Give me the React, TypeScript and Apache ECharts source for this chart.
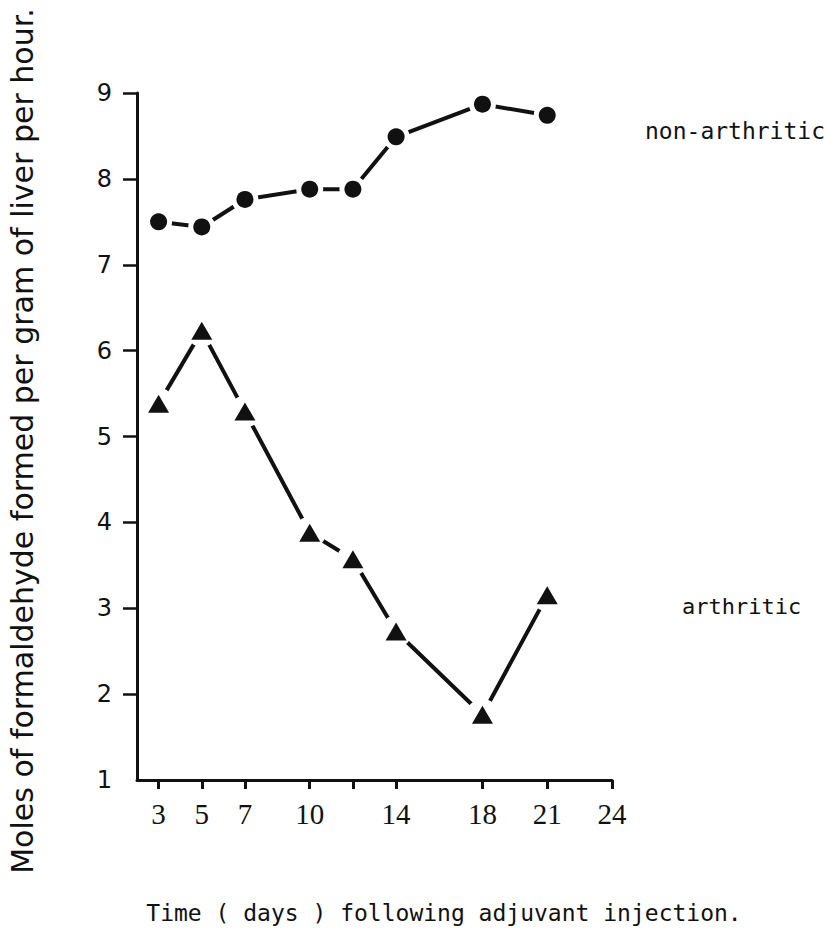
import React, { useEffect, useRef } from "react";
import * as echarts from "echarts";

// Days after adjuvant injection at which livers were assayed
const days = [3, 5, 7, 10, 12, 14, 18, 21];
// Moles of formaldehyde formed per gram of liver per hour
const nonArthritic = [7.5, 7.44, 7.76, 7.88, 7.88, 8.49, 8.87, 8.74];
const arthritic = [5.38, 6.23, 5.29, 3.88, 3.57, 2.73, 1.76, 3.15];

const xTickDays = [3, 5, 7, 10, 12, 14, 18, 21, 24];
const xLabelDays = [3, 5, 7, 10, 14, 18, 21, 24];
const yTickValues = [2, 3, 4, 5, 6, 7, 8, 9];
const yLabelValues = [1, 2, 3, 4, 5, 6, 7, 8, 9];

const seriesNames = ["non-arthritic", "arthritic"];
const yTitle = "Moles of formaldehyde formed per gram of liver per hour.";
const xTitle = "Time ( days ) following adjuvant injection.";

const INK = "#111111";

const pairs = (vals: number[]) => days.map((d, i) => [d, vals[i]]);

export default function App() {
  const ref = useRef<HTMLDivElement>(null);

  useEffect(() => {
    if (!ref.current) return;
    const chart = echarts.init(ref.current, undefined, { renderer: "svg" });

    const option: echarts.EChartsOption = {
      animation: false,
      backgroundColor: "#ffffff",
      grid: { left: 137, top: 93, width: 475, height: 687, containLabel: false },
      xAxis: {
        type: "value",
        min: 2,
        max: 24,
        splitLine: { show: false },
        axisLine: { show: true, lineStyle: { color: INK, width: 3 } },
        axisTick: {
          show: true,
          customValues: xTickDays,
          length: 9,
          lineStyle: { color: INK, width: 3 },
        },
        axisLabel: {
          customValues: xLabelDays,
          margin: 19,
          color: INK,
          fontFamily: "Liberation Serif",
          fontSize: 29,
        },
      } as any,
      yAxis: {
        type: "value",
        min: 1,
        max: 9,
        interval: 1,
        splitLine: { show: false },
        axisLine: { show: true, lineStyle: { color: INK, width: 3 } },
        axisTick: {
          show: true,
          customValues: yTickValues,
          length: 14,
          lineStyle: { color: INK, width: 2.5 },
        },
        axisLabel: {
          customValues: yLabelValues,
          margin: 25,
          color: INK,
          fontFamily: "DejaVu Sans",
          fontSize: 24,
        },
      } as any,
      series: [
        {
          name: seriesNames[0],
          type: "line",
          data: pairs(nonArthritic),
          symbol: "none",
          lineStyle: { color: INK, width: 4 },
          z: 2,
          silent: true,
        },
        {
          name: seriesNames[1],
          type: "line",
          data: pairs(arthritic),
          symbol: "none",
          lineStyle: { color: INK, width: 4 },
          z: 2,
          silent: true,
        },
        // white halos leave a small gap between each marker and its segments
        {
          type: "scatter",
          data: pairs(nonArthritic),
          symbol: "circle",
          symbolSize: 27,
          itemStyle: { color: "#ffffff", opacity: 1 },
          z: 3,
          silent: true,
        },
        {
          type: "scatter",
          data: pairs(arthritic),
          symbol: "circle",
          symbolSize: 32,
          itemStyle: { color: "#ffffff", opacity: 1 },
          z: 3,
          silent: true,
        },
        {
          name: seriesNames[0],
          type: "scatter",
          data: pairs(nonArthritic),
          symbol: "circle",
          symbolSize: 17,
          itemStyle: { color: INK, opacity: 1 },
          z: 4,
          silent: true,
        },
        {
          name: seriesNames[1],
          type: "scatter",
          data: pairs(arthritic),
          symbol: "triangle",
          symbolSize: [21, 18],
          itemStyle: { color: INK, opacity: 1 },
          z: 4,
          silent: true,
        },
      ],
      graphic: [
        {
          type: "text",
          x: 22,
          y: 441,
          rotation: Math.PI / 2,
          style: {
            text: yTitle,
            fill: INK,
            font: '30px "DejaVu Sans"',
            align: "center",
            verticalAlign: "middle",
          },
        },
        {
          type: "text",
          x: 444,
          y: 913,
          style: {
            text: xTitle,
            fill: INK,
            font: '23px "DejaVu Sans Mono"',
            align: "center",
            verticalAlign: "middle",
          },
        },
        {
          type: "text",
          x: 645,
          y: 131,
          style: {
            text: seriesNames[0],
            fill: INK,
            font: '23px "DejaVu Sans Mono"',
            align: "left",
            verticalAlign: "middle",
          },
        },
        {
          type: "text",
          x: 682,
          y: 606,
          style: {
            text: seriesNames[1],
            fill: INK,
            font: '22px "DejaVu Sans Mono"',
            align: "left",
            verticalAlign: "middle",
          },
        },
      ],
    };

    chart.setOption(option);
    return () => chart.dispose();
  }, []);

  return (
    <div
      ref={ref}
      style={{ position: "absolute", left: 0, top: 0, width: 830, height: 937 }}
    />
  );
}
